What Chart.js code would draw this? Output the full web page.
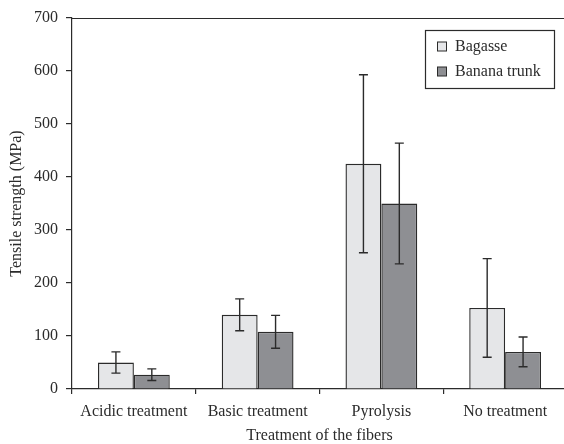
<!DOCTYPE html>
<html><head><meta charset="utf-8">
<script src="https://cdn.jsdelivr.net/npm/chart.js@4"></script>
<style>html,body{margin:0;padding:0;overflow:hidden;background:#fff;width:564px;height:444px}#wrap{width:567px;height:444px}</style>
</head><body><div id="wrap"><canvas id="c" width="567" height="444"></canvas></div>
<script>
const categories = ["Acidic treatment", "Basic treatment", "Pyrolysis", "No treatment"];
const bagasse = [50, 140, 425, 153];
const bagasseErr = [20, 30, 168, 93];
const banana = [27, 108, 350, 70];
const bananaErr = [11, 31, 114, 28];
const yTicks = [0, 100, 200, 300, 400, 500, 600, 700];

const FONT = "'Liberation Serif', 'Times New Roman', serif";
const INK = "#2b2b2b";

const errorBars = {
  id: 'errorBars',
  afterDatasetsDraw(chart) {
    const ctx = chart.ctx, ys = chart.scales.y;
    ctx.save();
    ctx.strokeStyle = INK; ctx.lineWidth = 1.4;
    chart.data.datasets.forEach((ds, di) => {
      const meta = chart.getDatasetMeta(di);
      meta.data.forEach((bar, i) => {
        const v = ds.data[i], e = ds.errors[i];
        const yt = ys.getPixelForValue(v + e), yb = ys.getPixelForValue(v - e);
        const x = bar.x, w = 4.5;
        ctx.beginPath();
        ctx.moveTo(x, yt); ctx.lineTo(x, yb);
        ctx.moveTo(x - w, yt); ctx.lineTo(x + w, yt);
        ctx.moveTo(x - w, yb); ctx.lineTo(x + w, yb);
        ctx.stroke();
      });
    });
    ctx.restore();
  }
};

const frame = {
  id: 'frame',
  afterDraw(chart) {
    const ctx = chart.ctx, a = chart.chartArea;
    ctx.save();
    ctx.strokeStyle = INK; ctx.lineWidth = 1.2;
    ctx.beginPath(); ctx.moveTo(a.left, a.top + 0.5); ctx.lineTo(a.right + 5, a.top + 0.5); ctx.stroke();
    // legend
    const bx = 425.5, by = 30.5, bw = 129, bh = 58;
    ctx.fillStyle = '#fff';
    ctx.fillRect(bx, by, bw, bh);
    ctx.lineWidth = 1.2;
    ctx.strokeRect(bx, by, bw, bh);
    ctx.font = "16px " + FONT;
    ctx.textBaseline = 'middle';
    chart.data.datasets.forEach((ds, i) => {
      const cy = by + 16 + i * 25;
      ctx.fillStyle = ds.backgroundColor;
      ctx.fillRect(437.5, cy - 4.5, 9, 9);
      ctx.lineWidth = 1;
      ctx.strokeRect(437.5, cy - 4.5, 9, 9);
      ctx.fillStyle = INK;
      ctx.fillText(ds.label, 455, cy);
    });
    ctx.restore();
  }
};

new Chart(document.getElementById('c'), {
  type: 'bar',
  data: {
    labels: categories,
    datasets: [
      { label: 'Bagasse', data: bagasse, errors: bagasseErr, backgroundColor: '#e5e6e8', borderColor: INK, borderWidth: 1.4 },
      { label: 'Banana trunk', data: banana, errors: bananaErr, backgroundColor: '#8e8f93', borderColor: INK, borderWidth: 1.4 }
    ]
  },
  options: {
    responsive: false,
    animation: false,
    layout: { padding: { top: 18, right: 0, left: 0, bottom: 0 } },
    plugins: { legend: { display: false }, tooltip: { enabled: false } },
    datasets: { bar: { categoryPercentage: 0.58, barPercentage: 1.0 } },
    scales: {
      x: {
        offset: true,
        grid: { offset: true, drawOnChartArea: false, drawTicks: true, tickLength: 5, color: INK, lineWidth: 1.2 },
        border: { display: true, color: INK, width: 1.2 },
        ticks: { color: INK, font: { family: FONT, size: 16 }, padding: 8 },
        title: { display: true, text: 'Treatment of the fibers', color: INK, font: { family: FONT, size: 16 }, padding: { top: 4, bottom: -1 } },
        afterFit(s) { s.height = 55; }
      },
      y: {
        min: 0, max: 700,
        afterBuildTicks(s) { s.ticks = yTicks.map(v => ({ value: v })); },
        grid: { drawOnChartArea: false, drawTicks: true, tickLength: 6, color: INK, lineWidth: 1.2 },
        border: { display: true, color: INK, width: 1.2 },
        ticks: { color: INK, font: { family: FONT, size: 16 }, padding: 8 },
        title: { display: true, text: 'Tensile strength (MPa)', color: INK, font: { family: FONT, size: 16 }, padding: { top: 7, bottom: 6 } },
        afterFit(s) { s.width = 72; }
      }
    }
  },
  plugins: [errorBars, frame]
});
</script>
</body></html>
